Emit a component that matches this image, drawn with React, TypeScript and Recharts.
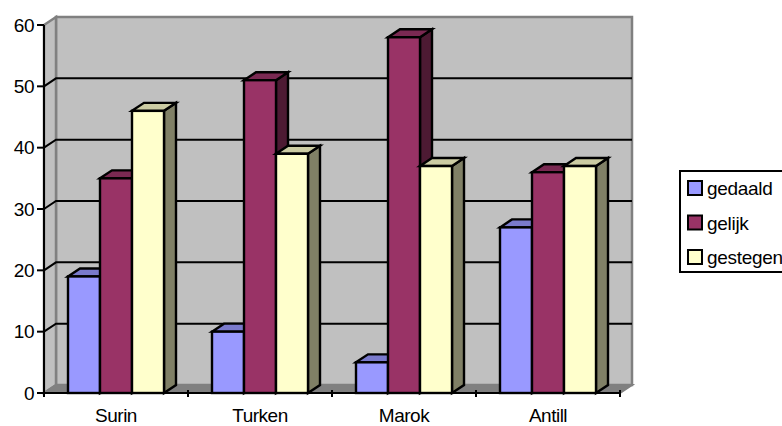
import React from "react";
import { BarChart, Bar, XAxis, YAxis, CartesianGrid, Legend } from "recharts";

const categories = ["Surin", "Turken", "Marok", "Antill"];
const gedaald = [19, 10, 5, 27];
const gelijk = [35, 51, 58, 36];
const gestegen = [46, 39, 37, 37];
const yTicks = [0, 10, 20, 30, 40, 50, 60];
const seriesNames = ["gedaald", "gelijk", "gestegen"];
const seriesColors = ["#9999FF", "#993366", "#FFFFCC"];
const topColors = ["#7A7ACC", "#7A2952", "#CCCCA3"];
const sideColors = ["#5C5C99", "#4D1A33", "#808066"];

const data = categories.map((name, i) => ({ name, gedaald: gedaald[i], gelijk: gelijk[i], gestegen: gestegen[i] }));

const DX = 12;
const DY = 8;
const FONT = "'Liberation Sans', Arial, sans-serif";
const BAND = 144;

function Box(props: any) {
  const { x, y, width, height, idx } = props;
  return (
    <g stroke="#000" strokeWidth={2.4} strokeLinejoin="miter">
      <path d={`M${x + width},${y} l${DX},${-DY} v${height} l${-DX},${DY} z`} fill={sideColors[idx]} />
      <path d={`M${x},${y} l${DX},${-DY} h${width} l${-DX},${DY} z`} fill={topColors[idx]} />
      <rect x={x} y={y} width={width} height={height} fill={seriesColors[idx]} />
    </g>
  );
}

function Wall(props: any) {
  const { x, y, width, height } = props;
  const b = y + height;
  return (
    <g>
      <path d={`M${x + DX},${y - DY} h${width} v${height} h${-width} z`} fill="#C0C0C0" stroke="#808080" strokeWidth={2.5} />
      <path d={`M${x},${y} l${DX},${-DY} v${height} l${-DX},${DY} z`} fill="#C0C0C0" stroke="#808080" strokeWidth={2.5} />
      <path d={`M${x},${b} l${DX},${-DY} h${width} l${-DX},${DY} z`} fill="#808080" stroke="#808080" strokeWidth={2} />
    </g>
  );
}

function GridLine(props: any) {
  const { x1, x2, y1, index } = props;
  if (y1 > 390 || y1 < 30) return <g key={index} />;
  return (
    <path key={index} d={`M${x1},${y1} l${DX},${-DY} H${x2 + DX}`} fill="none" stroke="#000" strokeWidth={2} />
  );
}

function CategoryTick(props: any) {
  const { x, y, payload, index } = props;
  const top = y - 11;
  return (
    <g>
      <path d={`M${x - BAND / 2},${top} v7`} stroke="#000" strokeWidth={2} />
      {index === categories.length - 1 && <path d={`M${x + BAND / 2},${top} v7`} stroke="#000" strokeWidth={2} />}
      <text x={x} y={top + 32} textAnchor="middle" fontFamily={FONT} fontSize={19} letterSpacing={-0.5} fill="#000">
        {payload.value}
      </text>
    </g>
  );
}

function LegendBox() {
  return (
    <svg width={120} height={103} style={{ display: "block", overflow: "visible" }}>
      <rect x={1} y={1} width={118} height={101} fill="#fff" stroke="#000" strokeWidth={2} />
      {seriesNames.map((n, i) => (
        <g key={n}>
          <rect x={9} y={11 + i * 34.5} width={14} height={14} fill={seriesColors[i]} stroke="#000" strokeWidth={2} />
          <text x={28} y={25 + i * 34.5} fontFamily={FONT} fontSize={19} letterSpacing={-0.3} fill="#000">{n}</text>
        </g>
      ))}
    </svg>
  );
}

export default function App() {
  return (
    <div style={{ position: "absolute", left: 0, top: 0, width: 782, height: 426, background: "#fff", overflow: "hidden" }}>
      <BarChart
        width={782}
        height={426}
        data={data}
        margin={{ top: 25, right: 42, bottom: 3, left: 0 }}
        barCategoryGap={24}
        barGap={0}
      >
        <YAxis
          domain={[0, 60]}
          ticks={yTicks}
          width={44}
          interval={0}
          axisLine={{ stroke: "#000", strokeWidth: 2 }}
          tickLine={{ stroke: "#000", strokeWidth: 2 }}
          tickSize={7}
          tickMargin={3}
          tick={{ fontFamily: FONT, fontSize: 19, fill: "#000", letterSpacing: -0.5 }}
        />
        <XAxis
          dataKey="name"
          height={30}
          axisLine={{ stroke: "#000", strokeWidth: 2 }}
          tickLine={false}
          interval={0}
          tick={(p: any) => <CategoryTick {...p} />}
        />
        <CartesianGrid
          vertical={false}
          horizontal={(p: any) =>
            p.index === 0 ? (
              <g key="w">
                <Wall x={44} y={25} width={576} height={368} />
                <GridLine {...p} />
              </g>
            ) : (
              <GridLine {...p} />
            )
          }
          syncWithTicks
        />
        {seriesNames.map((n, i) => (
          <Bar key={n} dataKey={n} name={n} isAnimationActive={false} shape={(p: any) => <Box {...p} idx={i} />} />
        ))}
        <Legend
          layout="vertical"
          align="right"
          verticalAlign="top"
          wrapperStyle={{ position: "absolute", left: 679, top: 170, width: 120, height: 103 }}
          content={() => <LegendBox />}
        />
      </BarChart>
    </div>
  );
}
